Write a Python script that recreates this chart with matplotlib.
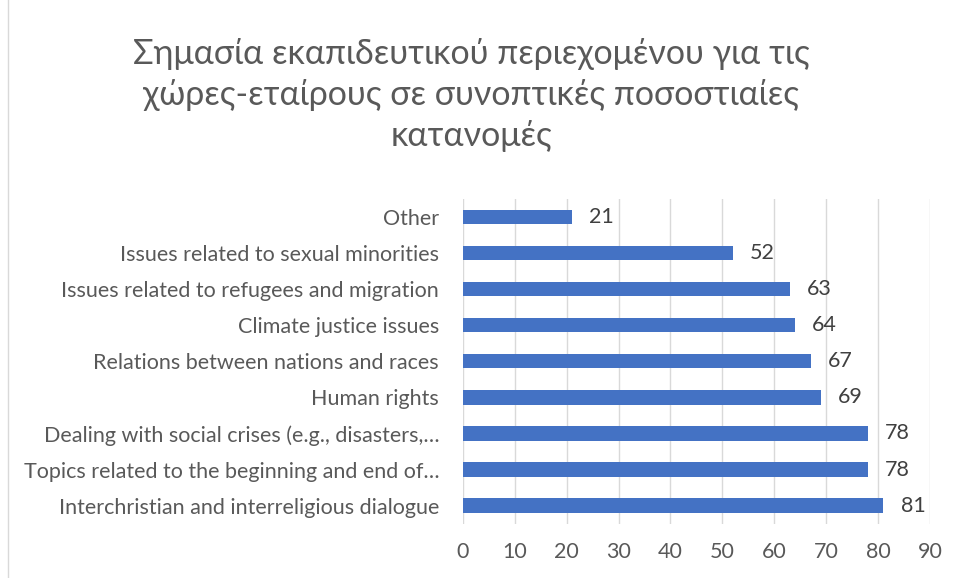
import matplotlib.pyplot as plt
from matplotlib.patches import Rectangle

# Δεδομένα
categories = [
    "Interchristian and interreligious dialogue",
    "Topics related to the beginning and end of\u2026",
    "Dealing with social crises (e.g., disasters,\u2026",
    "Human rights",
    "Relations between nations and races",
    "Climate justice issues",
    "Issues related to refugees and migration",
    "Issues related to sexual minorities",
    "Other",
]
values = [81, 78, 78, 69, 67, 64, 63, 52, 21]
xticks = [0, 10, 20, 30, 40, 50, 60, 70, 80, 90]
title = "Σημασία εκαπιδευτικού περιεχομένου για τις\nχώρες-εταίρους σε συνοπτικές ποσοστιαίες\nκατανομές"

plt.rcParams['font.family'] = ['Lato', 'DejaVu Sans']

fig = plt.figure(figsize=(9.58, 5.78), dpi=100)
ax = fig.add_axes([0.483, 0.094, 0.488, 0.562])

pos = range(len(categories))
ax.barh(pos, values, height=0.4, color='#4472C4', zorder=3)
for p, v in zip(pos, values):
    ax.text(v + 3.3, p, str(v), va='center', ha='left', fontsize=15.5, color='#404040')

ax.set_xlim(0, 90)
ax.set_ylim(-0.5, len(categories) - 0.5)
ax.set_xticks(xticks)
ax.set_yticks(list(pos))
ax.set_yticklabels(categories)
ax.tick_params(axis='both', length=0, labelsize=15.5, labelcolor='#595959')
ax.tick_params(axis='x', pad=13)
ax.tick_params(axis='y', pad=17)
ax.grid(axis='x', color='#D9D9D9', linewidth=1, zorder=0)
for s in ax.spines.values():
    s.set_visible(False)

fig.text(0.492, 0.935, title, ha='center', va='top', fontsize=24.5, color='#595959',
         linespacing=1.36)

fig.patches.append(Rectangle((0.008, -0.01), 1.2, 1.2, transform=fig.transFigure,
                             fill=False, edgecolor='#D9D9D9', linewidth=1))

fig.savefig('out.png', dpi=100)
